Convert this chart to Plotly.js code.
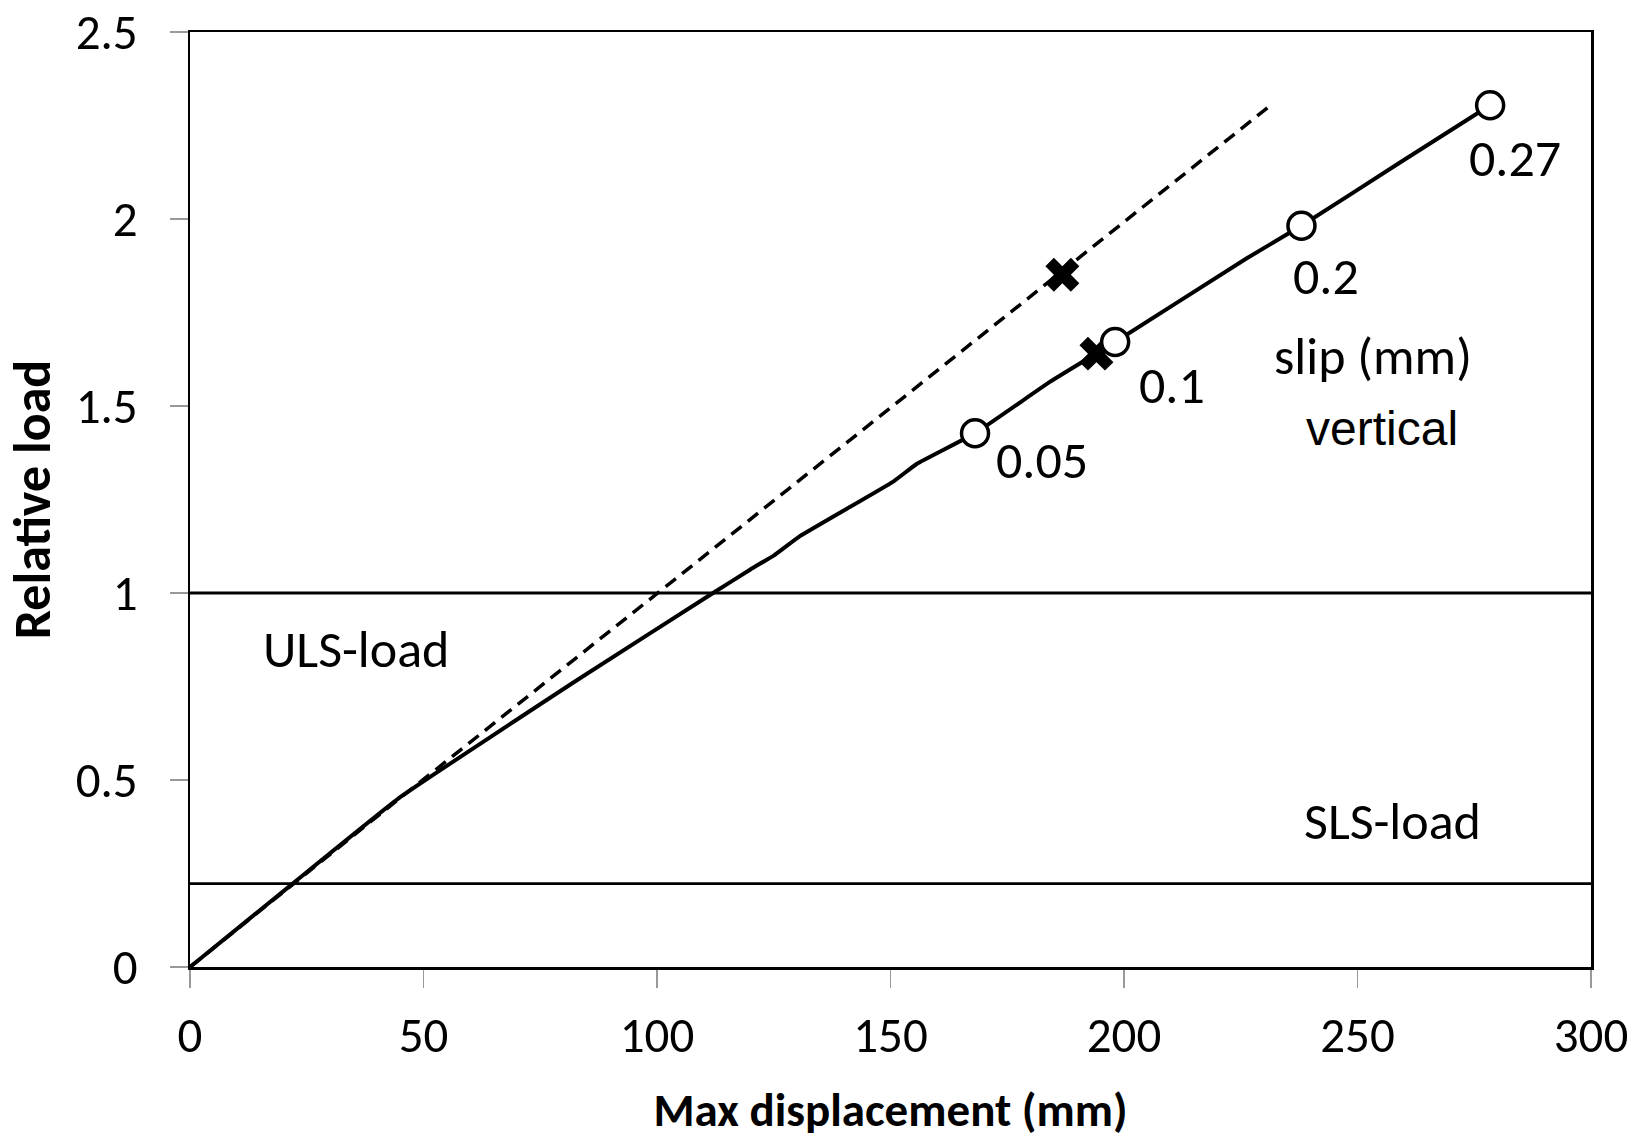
<!DOCTYPE html>
<html>
<head>
<meta charset="utf-8">
<script src="https://cdn.plot.ly/plotly-3.0.1.min.js"></script>
<style>html,body{margin:0;padding:0;background:#fff;}#chart{width:1643px;height:1139px;}</style>
</head>
<body>
<div id="chart"></div>
<script>
// Solid curve (vertical load vs max displacement)
const solidX = [0, 22, 45, 83.5, 112, 120, 125, 130.6, 150.6, 155.6, 168.1, 184.2, 198.1, 226.3, 238, 259.1, 278.4];
const solidY = [0, 0.223, 0.454, 0.772, 1.0, 1.063, 1.100, 1.152, 1.298, 1.345, 1.427, 1.565, 1.671, 1.895, 1.982, 2.151, 2.304];
// Dashed (linear) curve
const dashedX = [0, 45, 231.6];
const dashedY = [0, 0.452, 2.306];
// Slip markers (open circles) on solid curve
const slipX = [168.1, 198.1, 238.0, 278.4];
const slipY = [1.427, 1.671, 1.982, 2.304];
const slipLabels = ['0.05', '0.1', '0.2', '0.27'];
// Cross markers
const crossX = [186.8, 194.1];
const crossY = [1.851, 1.640];
// Reference load levels
const ulsLoad = 1.0;
const slsLoad = 0.223;
const xTicks = [0, 50, 100, 150, 200, 250, 300];
const yTicks = [0, 0.5, 1, 1.5, 2, 2.5];

const FONT = "Carlito, Lato, 'Open Sans', sans-serif";
const labelShift = [[67, -27], [57, -43], [25, -50], [25, -53]];

const traces = [
  {x: [0, 300], y: [ulsLoad, ulsLoad], mode: 'lines', line: {color: '#000', width: 2.8}, hoverinfo: 'skip'},
  {x: [0, 300], y: [slsLoad, slsLoad], mode: 'lines', line: {color: '#000', width: 2.8}, hoverinfo: 'skip'},
  {x: dashedX, y: dashedY, mode: 'lines', line: {color: '#000', width: 3.5, dash: '13px,8px'}},
  {x: solidX, y: solidY, mode: 'lines', line: {color: '#000', width: 4, shape: 'spline', smoothing: 0.3}},
  {x: crossX, y: crossY, mode: 'markers', marker: {symbol: 'x', size: 30, color: '#000', line: {width: 0}}},
  {x: slipX, y: slipY, mode: 'markers', marker: {symbol: 'circle', size: 27, color: '#fff', line: {color: '#000', width: 3.5}}}
];

const annotations = slipLabels.map((t, i) => ({
  x: slipX[i], y: slipY[i], text: t, showarrow: false,
  xshift: labelShift[i][0], yshift: labelShift[i][1],
  font: {family: FONT, size: 52, color: '#000'}
}));
annotations.push(
  {x: 253.3, y: 1.635, text: 'slip (mm)', showarrow: false, font: {family: FONT, size: 52, color: '#000'}},
  {x: 255.2, y: 1.44, text: 'vertical', showarrow: false, font: {family: "'Liberation Sans', Arial, sans-serif", size: 48, color: '#000'}},
  {x: 35.5, y: 0.85, text: 'ULS-load', showarrow: false, font: {family: FONT, size: 52, color: '#000'}},
  {x: 257.5, y: 0.39, text: 'SLS-load', showarrow: false, font: {family: FONT, size: 52, color: '#000'}}
);

const layout = {
  width: 1643, height: 1139,
  margin: {l: 190, r: 52, t: 32, b: 172},
  paper_bgcolor: '#fff', plot_bgcolor: '#fff',
  showlegend: false,
  xaxis: {
    range: [0, 300], tickvals: xTicks, showgrid: false, zeroline: false,
    showline: true, linecolor: '#000', linewidth: 2.5, mirror: true,
    ticks: 'outside', ticklen: 18, tickwidth: 1.5, tickcolor: '#999',
    ticklabelstandoff: 6, ticklabeloverflow: 'allow',
    tickfont: {family: FONT, size: 49, color: '#000'},
    title: {text: '<b>Max displacement (mm)</b>', font: {family: FONT, size: 47, color: '#000'}, standoff: 36}
  },
  yaxis: {
    range: [0, 2.5], tickvals: yTicks, showgrid: false, zeroline: false,
    showline: true, linecolor: '#000', linewidth: 2.5, mirror: true,
    ticks: 'outside', ticklen: 18, tickwidth: 1.5, tickcolor: '#999',
    ticklabelstandoff: 22, ticklabeloverflow: 'allow',
    tickfont: {family: FONT, size: 49, color: '#000'},
    title: {text: '<b>Relative load</b>', font: {family: FONT, size: 52, color: '#000'}, standoff: 16}
  },
  annotations: annotations
};

Plotly.newPlot('chart', traces, layout, {displayModeBar: false, staticPlot: true});
</script>
</body>
</html>
